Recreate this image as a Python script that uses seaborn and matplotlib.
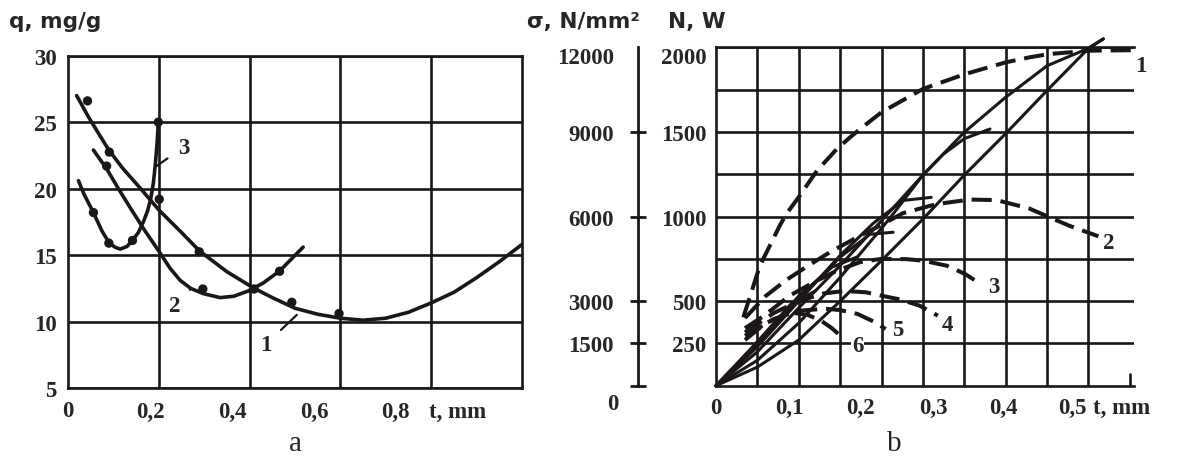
import matplotlib
matplotlib.use('Agg')
import pandas as pd
import matplotlib.pyplot as plt
import seaborn as sns

sns.set_theme(style='white')
plt.rcParams['font.family'] = ['Liberation Serif', 'DejaVu Serif']

INK = '#1b1717'
W, H = 1177, 464

# ---------------- panel a: q, mg/g vs t, mm
a1_t = [0.019, 0.045, 0.07, 0.09, 0.12, 0.16, 0.2, 0.25, 0.29, 0.35, 0.41, 0.45, 0.5,
        0.55, 0.6, 0.65, 0.7, 0.75, 0.8, 0.85, 0.9, 0.95, 1.0]
a1_q = [27.0, 25.4, 24.0, 22.9, 21.55, 20.0, 18.4, 16.7, 15.3, 13.75, 12.5, 11.8, 11.0,
        10.55, 10.25, 10.1, 10.25, 10.7, 11.4, 12.2, 13.3, 14.5, 15.8]
a2_t = [0.056, 0.085, 0.111, 0.14, 0.17, 0.2, 0.225, 0.247, 0.27, 0.298, 0.335, 0.365,
        0.397, 0.43, 0.466, 0.518]
a2_q = [22.9, 21.5, 20.0, 18.4, 16.8, 15.3, 14.0, 13.1, 12.5, 12.1, 11.8, 11.9,
        12.3, 12.9, 13.8, 15.6]
a3_t = [0.023, 0.035, 0.056, 0.075, 0.09, 0.103, 0.115, 0.13, 0.142, 0.155, 0.166,
        0.175, 0.182, 0.188, 0.192, 0.196, 0.199]
a3_q = [20.6, 19.6, 18.2, 16.8, 15.95, 15.6, 15.45, 15.65, 16.1, 16.7, 17.5,
        18.3, 19.2, 20.4, 21.7, 23.3, 25.0]

# measured points
a_dot_t = [0.043, 0.091, 0.201, 0.289, 0.493, 0.597,
           0.085, 0.297, 0.41, 0.466,
           0.056, 0.09, 0.142, 0.199]
a_dot_q = [26.6, 22.75, 19.2, 15.25, 11.45, 10.6,
           21.7, 12.45, 12.45, 13.78,
           18.2, 15.9, 16.1, 25.0]

# curve numbers: (label, text t, text q, leader-end t, leader-end q)
a_labels = [('1', 0.436, 8.3, 0.504, 10.5),
            ('2', 0.236, 11.2, 0.27, 12.45),
            ('3', 0.254, 23.1, 0.195, 21.7)]

a_xtick_labels = ['0', '0,2', '0,4', '0,6', '0,8']
a_yticks = [5, 10, 15, 20, 25, 30]

# ---------------- panel b: N, W (and sigma) vs t, mm
b_solid = {
    's1': ([0, 0.05, 0.1, 0.15, 0.2, 0.25, 0.3, 0.35, 0.4, 0.45, 0.468],
           [0, 110, 270, 500, 740, 985, 1245, 1490, 1745, 1994, 2050]),
    's2': ([0, 0.05, 0.1, 0.15, 0.2, 0.25, 0.3, 0.35, 0.4, 0.45, 0.468],
           [0, 200, 460, 710, 975, 1245, 1498, 1705, 1891, 1994, 2050]),
    's3': ([0, 0.05, 0.1, 0.15, 0.2, 0.214, 0.25, 0.275, 0.3, 0.331],
           [0, 150, 370, 640, 930, 1015, 1245, 1370, 1460, 1517]),
    's4': ([0, 0.05, 0.1, 0.15, 0.19, 0.226, 0.26],
           [0, 230, 500, 770, 960, 1095, 1113]),
    's5': ([0, 0.05, 0.1, 0.15, 0.186, 0.214],
           [0, 240, 510, 760, 895, 907]),
    's6': ([0, 0.05, 0.1, 0.14, 0.17],
           [0, 250, 530, 700, 760]),
    's7': ([0, 0.05, 0.09, 0.12],
           [0, 260, 480, 560]),
}
b_dashed = {
    '1': ([0.033, 0.053, 0.077, 0.085, 0.099, 0.122, 0.146, 0.162, 0.174, 0.2, 0.25,
           0.301, 0.35, 0.379, 0.402, 0.452, 0.505],
          [404, 709, 946, 1015, 1108, 1271, 1399, 1468, 1517, 1616, 1754,
           1842, 1911, 1941, 1960, 1980, 1983]),
    '2': ([0.035, 0.06, 0.085, 0.11, 0.138, 0.166, 0.198, 0.226, 0.267, 0.307, 0.339,
           0.378, 0.427, 0.462],
          [400, 530, 625, 705, 790, 865, 946, 1020, 1074, 1100, 1097,
           1048, 945, 883]),
    '3': ([0.035, 0.057, 0.089, 0.118, 0.146, 0.174, 0.2, 0.23, 0.25, 0.279, 0.301, 0.32],
          [340, 410, 532, 611, 680, 730, 750, 748, 739, 709, 660, 600]),
    '4': ([0.035, 0.07, 0.1, 0.13, 0.155, 0.181, 0.2, 0.222, 0.246, 0.268],
          [315, 430, 500, 545, 560, 552, 532, 510, 473, 414]),
    '5': ([0.035, 0.07, 0.1, 0.132, 0.15, 0.171, 0.19, 0.205],
          [295, 395, 443, 455, 447, 424, 380, 335]),
    '6': ([0.035, 0.06, 0.09, 0.11, 0.127, 0.14, 0.151],
          [270, 370, 432, 420, 384, 340, 292]),
}
# curve numbers: (label, t, N)
b_labels = [('1', 0.513, 1891), ('2', 0.474, 848), ('3', 0.336, 585),
            ('4', 0.280, 362), ('5', 0.219, 332), ('6', 0.171, 236)]

b_xtick_labels = ['0', '0,1', '0,2', '0,3', '0,4', '0,5']
b_yticks = [250, 500, 1000, 1500, 2000]
sigma_ticks = [0, 1500, 3000, 6000, 9000, 12000]


def long_frame(curves, ycol):
    parts = [pd.DataFrame({'t': t, ycol: y, 'curve': name}) for name, (t, y) in curves.items()]
    return pd.concat(parts, ignore_index=True)


fig = plt.figure(figsize=(W / 100, H / 100), dpi=100)
fig.patch.set_facecolor('white')

tick_font = dict(family=['Liberation Serif'], weight='bold', size=16.5)
head_font = dict(family=['DejaVu Sans'], weight='bold', size=15.5)

# ================= panel a
ax = fig.add_axes([68 / W, 1 - 389 / H, 454 / W, 332.3 / H])
curves_a = long_frame({'1': (a1_t, a1_q), '2': (a2_t, a2_q), '3': (a3_t, a3_q)}, 'q')
sns.lineplot(data=curves_a, x='t', y='q', units='curve', estimator=None, sort=False,
             color=INK, lw=2.6, ax=ax, legend=False)
dots = pd.DataFrame({'t': a_dot_t, 'q': a_dot_q})
sns.scatterplot(data=dots, x='t', y='q', color=INK, s=45, edgecolor='none', ax=ax, zorder=4)

ax.set_xlim(0, 1.0)
ax.set_ylim(5, 30)
# the printed x labels sit a little left of their grid lines in the original
ax.set_xticks([0, 0.181, 0.361, 0.542, 0.720], a_xtick_labels)
ax.set_xticks([0.2, 0.4, 0.6, 0.8], minor=True)
ax.set_yticks(a_yticks, [str(v) for v in a_yticks])
ax.grid(False)
ax.grid(axis='x', which='minor', color=INK, lw=1.9)
ax.grid(axis='y', which='major', color=INK, lw=1.9)
ax.tick_params(which='both', length=0)
ax.tick_params(axis='x', pad=9)
ax.tick_params(axis='y', pad=8)
for lab in ax.get_xticklabels() + ax.get_yticklabels():
    lab.set(**tick_font)
for sp in ax.spines.values():
    sp.set_color(INK)
    sp.set_linewidth(1.9)
ax.set_xlabel('')
ax.set_ylabel('')
ax.annotate('t, mm', xy=(0.795, 0), xycoords=('data', 'axes fraction'), xytext=(0, -9),
            textcoords='offset points', ha='left', va='top', **tick_font)
for lab, tx, ty, px, py in a_labels:
    ax.annotate(lab, xy=(px, py), xytext=(tx, ty), ha='center', va='center',
                arrowprops=dict(arrowstyle='-', color=INK, lw=1.6, shrinkA=6, shrinkB=0),
                **tick_font)

# ================= panel b
bx = fig.add_axes([716 / W, 1 - 386.7 / H, 418 / W, 338.4 / H])
solid_df = long_frame(b_solid, 'N')
dashed_df = long_frame(b_dashed, 'N')
sns.lineplot(data=solid_df, x='t', y='N', units='curve', estimator=None, sort=False,
             color=INK, lw=2.2, ax=bx, legend=False)
sns.lineplot(data=dashed_df, x='t', y='N', units='curve', estimator=None, sort=False,
             color=INK, lw=2.9, linestyle=(0, (5, 2.2)), ax=bx, legend=False)
for ln in bx.lines:
    ln.set_clip_on(False)

bx.set_xlim(0, 0.505)
bx.set_ylim(0, 2000)
bx.set_xticks([0, 0.089, 0.175, 0.263, 0.347, 0.430], b_xtick_labels)
bx.set_xticks([0.05 * i for i in range(1, 10)], minor=True)
bx.set_yticks(b_yticks, [str(v) for v in b_yticks])
bx.set_yticks(list(range(250, 2000, 250)), minor=True)
bx.grid(False)
bx.grid(which='minor', color=INK, lw=1.9)
bx.grid(axis='y', which='major', color=INK, lw=1.9)
bx.axvline(0.5, ymax=0.035, color=INK, lw=1.9)
bx.tick_params(which='both', length=0)
bx.tick_params(axis='x', pad=8)
bx.tick_params(axis='y', pad=7)
for lab in bx.get_xticklabels() + bx.get_yticklabels():
    lab.set(**tick_font)
bx.get_yticklabels()[-1].set_va('top')
bx.spines['right'].set_visible(False)
for sp in ['left', 'top', 'bottom']:
    bx.spines[sp].set_color(INK)
    bx.spines[sp].set_linewidth(1.9)
bx.set_xlabel('')
bx.set_ylabel('')
bx.annotate('t, mm', xy=(0.456, 0), xycoords=('data', 'axes fraction'), xytext=(0, -8),
            textcoords='offset points', ha='left', va='top', **tick_font)
for lab, tx, ty in b_labels:
    bx.text(tx, ty, lab, ha='center', va='center', zorder=6,
            bbox=dict(fc='white', ec='none', pad=0.4), **tick_font)

# sigma axis, 6 N/mm2 per W
sx = bx.twinx()
sx.set_ylim(0, 12000)
for sp in ['right', 'top', 'bottom']:
    sx.spines[sp].set_visible(False)
sx.spines['left'].set_visible(True)
sx.spines['left'].set_position(('outward', 56.5))
sx.spines['left'].set_color(INK)
sx.spines['left'].set_linewidth(2.0)
sx.yaxis.tick_left()
sx.set_yticks(sigma_ticks, [''] + [str(v) for v in sigma_ticks[1:]])
sx.tick_params(axis='y', direction='inout', length=12, width=2.0, color=INK, pad=11)
for lab in sx.get_yticklabels():
    lab.set(**tick_font)
sx.get_yticklabels()[-1].set_va('top')
sx.yaxis.get_major_ticks()[-1].tick1line.set_visible(False)
sx.annotate('0', xy=(0, 0), xycoords=sx.get_yaxis_transform(), xytext=(-74, -13),
            textcoords='offset points', ha='center', va='center', **tick_font)

# headers and panel letters
fig.text(9 / W, 1 - 22 / H, 'q, mg/g', ha='left', va='center', **head_font)
fig.text(527 / W, 1 - 22 / H, 'σ, N/mm²', ha='left', va='center', **head_font)
fig.text(668 / W, 1 - 22 / H, 'N, W', ha='left', va='center', **head_font)
fig.text(295 / W, 1 - 444 / H, 'a', ha='center', va='center', family=['Liberation Serif'], size=21)
fig.text(894 / W, 1 - 444 / H, 'b', ha='center', va='center', family=['Liberation Serif'], size=21)

fig.savefig('out.png', dpi=100, facecolor='white')
